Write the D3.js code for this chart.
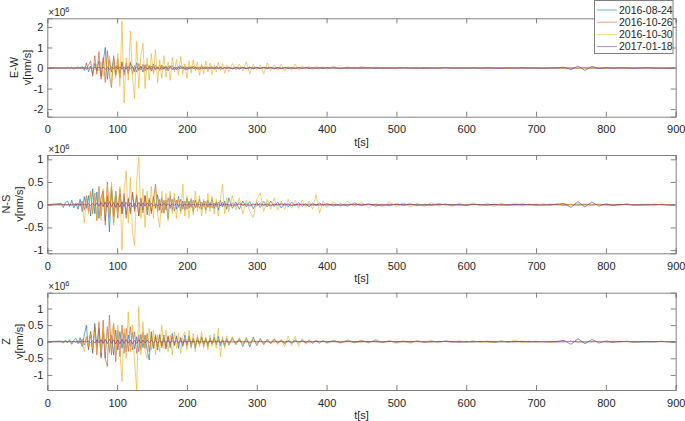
<!DOCTYPE html>
<html>
<head>
<meta charset="utf-8">
<script src="https://cdn.jsdelivr.net/npm/d3@7"></script>
<style>
  body { margin: 0; background: #fff; }
  text { font-family: "Liberation Sans", Arial, sans-serif; fill: #262626; }
</style>
</head>
<body>
<div id="chart"></div>
<script>
// sample times [s]: 3 s samples to 257 s, 5 s samples to 400 s, 10 s samples to 900 s
var times = [0].concat(d3.range(20, 258, 3), d3.range(260, 401, 5), d3.range(410, 901, 10));

var dates = ["2016-08-24", "2016-10-26", "2016-10-30", "2017-01-18"];
var components = ["E-W", "N-S", "Z"];
var xTicks = [0, 100, 200, 300, 400, 500, 600, 700, 800, 900];
var ewTicks = [-2, -1, 0, 1, 2];
var nsTicks = [-1, -0.5, 0, 0.5, 1];
var zTicks = [-1, -0.5, 0, 0.5, 1];

// velocities in 10^6 nm/s, one value per sample time
var ewBlue = [0,
  0, 0.01, -0.02, 0.03, -0.01, 0.04, -0.05, 0.02, 0.06, -0.04,
  0.08, -0.12, 0.25, -0.18, 0.1, -0.3, 0.22, -0.15, 0.35, -0.4,
  0.3, 1.0, -0.55, 0.4, -0.2, 0.45, -0.35, 0.15, -0.25, 0.3,
  -0.2, 0.12, -0.28, 0.22, 0.05, -0.18, 0.25, -0.12, 0.1, -0.2,
  0.16, -0.08, 0.12, -0.15, 0.2, -0.1, 0.04, -0.12, 0.15, -0.06,
  0.1, -0.14, 0.08, 0.12, -0.1, 0.05, -0.09, 0.11, -0.04, 0.08,
  -0.1, 0.06, -0.03, 0.09, -0.07, 0.04, -0.08, 0.1, -0.05, 0.06,
  -0.07, 0.03, 0.06, -0.05, 0.08, -0.04, 0.02, -0.06, 0.05, -0.03,
  0.05, -0.04, 0.03, -0.06, 0.04, -0.02, 0.05, -0.04, 0.03, -0.03,
  0.04, -0.02, 0.03, -0.04, 0.02, -0.03, 0.03, -0.01, 0.02, -0.03,
  0.02, -0.02, 0.03, -0.01, 0.02, -0.02, 0.01, -0.02, 0.01,
  0.01, -0.01, 0.02, 0, -0.01, 0.01, -0.02, 0.01, 0, -0.01,
  0.01, 0, -0.01, 0.01, -0.01, 0, 0.01, -0.01, 0, 0.01,
  0, -0.01, 0.01, 0, -0.01, 0, 0.01, 0, -0.01, 0,
  0.01, 0, -0.01, 0, 0.01, -0.01, 0, 0.01, 0, -0.01,
  0, 0.01, 0, -0.01, 0, 0.01, 0, -0.01, 0, 0];
var ewOrange = [0,
  0, 0, 0, 0, 0.01, -0.01, 0.01, 0, -0.02, 0.02,
  -0.03, 0.05, -0.08, 0.15, 0.35, -0.4, 0.6, -0.3, 0.8, -0.55,
  0.5, -0.7, 0.85, -0.4, -0.95, 0.6, -0.3, 0.45, -0.5, 0.3,
  -0.35, 0.25, -0.15, 0.3, -0.28, 0.12, -0.2, 0.22, -0.1, 0.18,
  -0.15, 0.2, -0.08, 0.1, -0.16, 0.12, -0.05, 0.14, -0.1, 0.08,
  -0.12, 0.06, 0.1, -0.09, 0.05, -0.1, 0.08, -0.04, 0.07, -0.08,
  0.06, -0.05, 0.08, -0.03, 0.05, -0.07, 0.04, -0.05, 0.06, -0.03,
  0.05, -0.04, 0.02, -0.05, 0.04, -0.03, 0.05, -0.02, 0.03, -0.04,
  0.03, -0.03, 0.04, -0.02, 0.03, -0.04, 0.02, -0.02, 0.03, -0.02,
  0.02, -0.03, 0.02, -0.01, 0.03, -0.02, 0.01, -0.02, 0.02, -0.01,
  0.02, -0.01, 0.01, -0.02, 0.01, -0.01, 0.02, -0.01, 0.01,
  0.01, 0, -0.01, 0.01, -0.01, 0, 0.01, 0, -0.01, 0.01,
  0, -0.01, 0, 0.01, 0, -0.01, 0.01, 0, 0, -0.01,
  0.01, 0, -0.01, 0, 0.01, 0, -0.01, 0, 0.01, 0,
  -0.01, 0, 0.01, 0, -0.01, 0, 0.01, -0.01, 0, 0.01,
  0, -0.01, 0, 0.01, 0, 0, -0.01, 0, 0.01, 0];
var ewYellow = [0,
  0, 0, 0, 0, 0, 0, 0, 0, 0, 0,
  0, 0.01, -0.01, 0.02, -0.03, 0.05, -0.1, 0.2, -0.15, 0.3,
  -0.4, 0.5, -0.25, 0.6, -0.7, 0.4, -0.5, 0.7, -0.9, 2.3,
  -1.7, 0.5, -0.6, 1.8, -0.4, -1.5, 1.3, -1.0, 0.6, 1.2,
  -1.0, 0.5, -0.6, 0.7, -0.3, 0.9, -0.7, 0.4, -0.5, 0.6,
  -0.45, 0.3, -0.6, 0.5, -0.2, 0.4, -0.35, 0.55, -0.3, 0.2,
  -0.5, 0.35, -0.25, 0.4, -0.15, 0.3, -0.35, 0.2, -0.28, 0.35,
  -0.2, 0.25, -0.3, 0.15, -0.2, 0.28, -0.12, 0.22, -0.25, 0.15,
  -0.18, 0.22, -0.1, 0.2, -0.15, 0.3, -0.28, 0.18, -0.1, 0.15,
  -0.3, 0.25, -0.12, 0.15, -0.1, 0.18, -0.14, 0.1, -0.12, 0.2,
  -0.1, 0.12, -0.08, 0.1, -0.06, 0.09, -0.05, 0.07, -0.06,
  0.08, -0.05, 0.06, -0.04, 0.07, -0.03, 0.05, -0.04, 0.03, -0.04,
  0.03, -0.02, 0.04, -0.03, 0.02, -0.03, 0.03, -0.02, 0.02, -0.03,
  0.04, -0.02, 0.03, -0.02, 0.02, -0.03, 0.02, -0.01, 0.02, -0.01,
  0.01, -0.02, 0.01, -0.01, 0.02, -0.01, 0.01, -0.01, 0.01, -0.01,
  0.01, 0, -0.01, 0.01, 0, -0.01, 0.01, 0, -0.01, 0];
var ewPurple = [0,
  0, 0, 0, 0, 0, 0, 0, 0, 0, 0,
  0, 0, 0.01, -0.01, 0.02, -0.02, 0.03, -0.02, 0.04, -0.03,
  0.05, -0.06, 0.04, -0.08, 0.06, -0.05, 0.07, -0.04, 0.05, -0.06,
  0.04, -0.05, 0.06, -0.03, 0.04, -0.05, 0.03, -0.04, 0.05, -0.02,
  0.03, -0.04, 0.02, -0.03, 0.04, -0.02, 0.03, -0.03, 0.02, -0.02,
  0.03, -0.02, 0.02, -0.03, 0.01, -0.02, 0.02, -0.01, 0.02, -0.02,
  0.01, -0.02, 0.01, -0.01, 0.02, -0.01, 0.01, -0.01, 0.01, -0.01,
  0.01, 0, -0.01, 0.01, -0.01, 0, 0.01, -0.01, 0, 0.01,
  0, -0.01, 0, 0.01, 0, -0.01, 0, 0.01, 0, 0,
  0, 0.01, 0, -0.01, 0, 0, 0.01, 0, -0.01, 0,
  0, 0, 0.01, 0, -0.01, 0, 0, 0.01, 0,
  0, -0.01, 0, 0, 0.01, 0, 0, -0.01, 0, 0,
  0.01, 0, 0, -0.01, 0, 0, 0.01, 0, 0, -0.01,
  0, 0, 0.01, 0, -0.01, 0, 0, 0.01, 0, 0,
  -0.01, 0, 0.01, 0.04, -0.08, 0.1, -0.12, 0.08, -0.03, 0.02,
  -0.01, 0.01, 0, -0.01, 0, 0.01, 0, 0, -0.01, 0];

var nsBlue = [0,
  0.03, -0.06, 0.05, 0.08, -0.04, 0.1, -0.07, 0.04, -0.1, 0.12,
  -0.15, 0.18, -0.08, 0.2, -0.25, 0.35, -0.2, 0.28, -0.3, 0.15,
  0.3, -0.35, 0.2, -0.6, 0.4, -0.25, 0.3, -0.15, 0.25, -0.2,
  0.18, -0.22, 0.12, -0.15, 0.25, -0.1, 0.2, -0.25, 0.15, -0.12,
  0.2, -0.22, 0.1, -0.15, 0.18, -0.08, 0.22, -0.12, 0.15, -0.18,
  0.1, -0.3, 0.2, -0.12, 0.15, -0.1, 0.18, -0.14, 0.08, -0.12,
  0.14, -0.08, 0.12, -0.15, 0.1, -0.06, 0.12, -0.1, 0.08, -0.12,
  0.1, -0.06, 0.14, -0.09, 0.07, -0.12, 0.1, -0.05, 0.08, -0.1,
  0.15, -0.08, 0.06, -0.1, 0.08, -0.05, 0.07, -0.09, 0.05, -0.06,
  0.07, -0.05, 0.08, -0.04, 0.06, -0.07, 0.04, -0.05, 0.06, -0.03,
  0.05, -0.04, 0.03, -0.05, 0.04, -0.03, 0.04, -0.02, 0.03,
  -0.03, 0.02, -0.03, 0.04, -0.02, 0.02, -0.03, 0.01, -0.02, 0.02,
  -0.01, 0.02, -0.02, 0.01, -0.01, 0.02, 0, -0.01, 0.01, -0.01,
  0.01, 0, -0.01, 0.01, 0, -0.01, 0, 0.01, 0, -0.01,
  0, 0.01, 0, -0.01, 0, 0.01, 0, -0.01, 0.01, 0,
  -0.01, 0, 0.01, 0, -0.01, 0, 0.01, 0, 0, 0];
var nsOrange = [0,
  0, 0, 0, 0, 0.01, -0.01, 0.02, -0.02, 0.04, -0.03,
  0.08, -0.12, 0.2, -0.15, 0.3, -0.2, 0.25, -0.35, 0.4, -0.25,
  0.3, -0.45, 0.5, -0.3, 0.35, -0.4, 0.2, -0.3, 0.35, -0.2,
  0.25, -0.3, 0.15, -0.2, 0.28, -0.15, 0.22, -0.25, 0.12, -0.18,
  0.2, -0.12, 0.15, -0.2, 0.1, 0.45, -0.15, 0.12, -0.18, 0.1,
  -0.12, 0.15, -0.08, 0.12, -0.14, 0.1, -0.06, 0.12, -0.1, 0.08,
  -0.1, 0.08, -0.06, 0.1, -0.07, 0.05, -0.08, 0.06, -0.04, 0.07,
  -0.06, 0.05, -0.07, 0.04, -0.05, 0.06, -0.03, 0.05, -0.04, 0.03,
  -0.05, 0.04, -0.03, 0.05, -0.02, 0.04, -0.04, 0.03, -0.03, 0.04,
  -0.02, 0.03, -0.03, 0.02, -0.02, 0.03, -0.01, 0.02, -0.02, 0.01,
  -0.02, 0.02, -0.01, 0.02, -0.01, 0.01, -0.02, 0.01, -0.01,
  0.01, -0.01, 0.01, 0, -0.01, 0.01, 0, -0.01, 0.01, 0,
  -0.01, 0, 0.01, 0, -0.01, 0.01, 0, 0, -0.01, 0,
  0.01, 0, -0.01, 0, 0.01, 0, 0, -0.01, 0, 0.01,
  0, -0.01, 0, 0.01, 0, -0.01, 0, 0.01, 0, 0,
  -0.01, 0, 0.01, 0, 0, -0.01, 0, 0.01, 0, 0];
var nsYellow = [0,
  0, 0, 0, 0, 0, 0, 0, 0, 0, 0,
  0.05, -0.4, 0.15, -0.2, 0.3, -0.15, 0.25, -0.3, 0.2, -0.35,
  0.35, -0.2, 0.45, -0.3, 0.5, -0.45, 0.3, -0.2, 0.4, -1.0,
  0.3, 0.75, -0.4, 0.6, -0.6, -0.9, 0.5, 1.05, -0.3, 0.35,
  -0.5, 0.3, -0.25, 0.4, -0.3, 0.35, -0.2, -0.5, 0.3, -0.2,
  0.25, -0.35, 0.3, -0.2, 0.25, -0.3, 0.15, -0.2, 0.45, -0.25,
  0.2, -0.3, 0.15, -0.22, 0.3, -0.15, 0.2, -0.25, 0.12, -0.2,
  0.25, -0.15, 0.18, -0.2, 0.12, -0.25, 0.15, 0.45, -0.2, 0.15,
  -0.15, 0.2, -0.12, 0.15, -0.2, 0.1, -0.15, -0.28, 0.12, 0.26,
  -0.15, 0.12, -0.1, 0.15, -0.12, 0.08, -0.1, 0.12, -0.08, 0.1,
  -0.08, 0.1, -0.06, 0.08, -0.1, 0.22, -0.18, 0.08, -0.06,
  0.06, -0.05, 0.08, -0.04, 0.06, -0.07, 0.03, -0.05, 0.06, -0.04,
  0.04, -0.05, 0.03, -0.04, 0.05, -0.03, 0.02, -0.04, 0.03, -0.02,
  0.04, -0.03, 0.02, -0.04, 0.03, -0.02, 0.04, -0.03, 0.02, -0.02,
  0.02, -0.01, 0.02, -0.02, 0.01, -0.01, 0.02, -0.01, 0.01, -0.02,
  0.01, -0.01, 0.02, -0.01, 0.01, 0, -0.01, 0.01, 0, 0];
var nsPurple = [0,
  0, 0, 0, 0, 0, 0, 0, 0, 0, 0,
  0, 0.01, -0.01, 0.02, -0.02, 0.03, -0.02, 0.04, -0.03, 0.05,
  -0.04, 0.06, -0.05, 0.07, -0.04, 0.05, -0.06, 0.04, -0.05, 0.06,
  -0.04, 0.05, -0.03, 0.04, -0.05, 0.03, -0.04, 0.05, -0.03, 0.04,
  -0.03, 0.04, -0.02, 0.03, -0.03, 0.02, -0.03, 0.02, -0.02, 0.03,
  -0.02, 0.02, -0.03, 0.02, -0.01, 0.02, -0.02, 0.01, -0.02, 0.01,
  -0.01, 0.02, -0.01, 0.01, -0.01, 0.01, 0, -0.01, 0.01, 0,
  -0.01, 0.01, 0, -0.01, 0.01, 0, -0.01, 0, 0.01, 0,
  0, -0.01, 0, 0.01, 0, 0, -0.01, 0, 0.01, 0,
  0, 0, -0.01, 0, 0.01, 0, 0, 0, -0.01, 0,
  0.01, 0, 0, -0.01, 0, 0, 0.01, 0, 0,
  0, -0.01, 0, 0, 0.01, 0, 0, -0.01, 0, 0,
  0.01, 0, 0, -0.01, 0, 0, 0.01, 0, 0, -0.01,
  0, 0, 0.01, 0, -0.01, 0, 0, 0.01, 0, 0,
  -0.01, 0, 0.01, 0.03, -0.06, 0.07, -0.05, 0.06, -0.03, 0.02,
  -0.01, 0.01, 0, -0.01, 0, 0.01, 0, 0, -0.01, 0];

var zBlue = [0,
  0.02, -0.04, 0.05, -0.03, 0.06, -0.08, 0.04, 0.1, -0.06, 0.12,
  -0.15, 0.2, 0.5, -0.25, 0.3, -0.35, 0.55, -0.2, 0.4, -0.45,
  0.3, -0.5, 0.45, -0.3, 0.2, -0.4, 0.35, -0.25, 0.3, -0.2,
  0.25, -0.3, 0.2, -0.15, 0.28, -0.22, 0.15, -0.3, 0.22, -0.18,
  0.2, -0.25, -0.55, 0.3, -0.2, 0.15, -0.25, 0.22, -0.12, 0.2,
  -0.22, 0.15, -0.18, 0.25, -0.1, 0.18, -0.2, 0.12, -0.15, 0.2,
  -0.12, 0.18, -0.16, 0.1, -0.2, 0.14, -0.08, 0.15, -0.12, 0.1,
  -0.15, 0.12, -0.08, 0.14, -0.1, 0.16, -0.12, 0.08, -0.14, 0.1,
  -0.1, 0.12, -0.08, 0.1, -0.14, 0.12, -0.16, 0.14, -0.12, 0.1,
  -0.08, 0.07, -0.06, 0.08, -0.05, 0.06, -0.07, 0.04, -0.05, 0.06,
  -0.04, 0.05, -0.03, 0.04, -0.05, 0.03, -0.04, 0.03, -0.02,
  0.03, -0.02, 0.03, -0.03, 0.02, -0.02, 0.03, -0.01, 0.02, -0.02,
  0.01, -0.02, 0.02, -0.01, 0.01, -0.01, 0.02, 0, -0.01, 0.01,
  -0.01, 0.01, 0, -0.02, 0.02, -0.01, 0, 0.01, -0.01, 0,
  0.01, 0, -0.01, 0, 0.01, 0, -0.01, 0, 0.01, 0,
  -0.01, 0, 0.01, 0, -0.01, 0, 0, 0.01, 0, 0];
var zOrange = [0,
  0, 0, 0, 0, 0.01, -0.01, 0.02, -0.02, 0.03, -0.05,
  0.08, -0.1, 0.15, -0.2, 0.3, -0.25, 0.45, -0.4, 0.6, -0.5,
  0.65, -0.5, -0.75, 0.8, -0.4, 0.55, -0.6, 0.35, -0.45, 0.5,
  -0.35, 0.4, -0.3, 0.45, -0.25, 0.3, -0.35, 0.2, -0.25, 0.3,
  -0.2, 0.25, -0.3, 0.18, -0.2, 0.22, -0.15, 0.2, -0.18, 0.12,
  -0.15, 0.18, -0.1, 0.15, -0.12, 0.14, -0.08, 0.12, -0.1, 0.08,
  -0.1, 0.12, -0.07, 0.09, -0.1, 0.06, -0.08, 0.1, -0.06, 0.07,
  -0.08, 0.05, -0.06, 0.08, -0.04, 0.06, -0.05, 0.04, -0.06, 0.05,
  -0.04, 0.05, -0.03, 0.04, -0.05, 0.03, -0.04, 0.05, -0.03, 0.03,
  -0.03, 0.02, -0.03, 0.03, -0.02, 0.02, -0.03, 0.01, -0.02, 0.02,
  -0.01, 0.02, -0.02, 0.01, -0.01, 0.02, -0.01, 0.01, -0.01,
  0.01, -0.01, 0.01, 0, -0.01, 0.01, 0, -0.01, 0.01, 0,
  -0.01, 0, 0.01, 0, -0.01, 0.01, 0, 0, -0.01, 0,
  0.01, 0, -0.01, 0, 0.01, 0, 0, -0.01, 0, 0.01,
  0, -0.01, 0, 0.01, 0, -0.01, 0, 0.01, 0, 0,
  -0.01, 0, 0.01, 0, 0, -0.01, 0, 0.01, 0, 0];
var zYellow = [0,
  0, 0, 0, 0, 0, 0, 0, 0, 0, 0,
  0.04, -0.3, 0.12, -0.15, 0.25, -0.2, 0.3, -0.25, 0.15, -0.35,
  0.4, -0.3, 0.45, -0.35, 0.25, 0.55, -0.4, 0.5, -0.3, -1.2,
  0.4, -0.5, 0.9, -0.3, 0.5, -0.6, -1.45, 1.05, -0.4, 0.6,
  -0.3, -0.5, 0.4, -0.25, 0.35, -0.4, 0.2, -0.3, 0.5, -0.2,
  0.35, -0.3, 0.2, -0.4, 0.3, -0.2, 0.25, -0.35, 0.15, 0.3,
  -0.25, 0.35, -0.2, 0.25, -0.3, 0.2, -0.15, 0.3, -0.2, 0.15,
  -0.25, 0.2, -0.15, 0.25, -0.2, 0.4, -0.45, 0.15, -0.2, 0.18,
  -0.12, 0.15, -0.1, 0.12, -0.15, 0.1, -0.08, 0.12, -0.1, 0.08,
  -0.1, 0.08, -0.06, 0.1, -0.08, 0.06, -0.15, 0.17, -0.12, 0.16,
  -0.14, 0.1, -0.08, 0.06, -0.05, 0.07, -0.04, 0.05, -0.06,
  0.04, -0.05, 0.06, -0.03, 0.05, -0.04, 0.07, -0.03, 0.04, -0.05,
  0.03, -0.04, 0.03, -0.02, 0.04, -0.03, 0.02, -0.03, 0.03, -0.02,
  0.03, -0.02, 0.02, -0.03, 0.02, -0.02, 0.05, -0.03, 0.02, -0.02,
  0.01, -0.02, 0.01, -0.01, 0.02, -0.01, 0.01, -0.01, 0.01, -0.01,
  0.02, -0.01, 0.01, -0.02, 0.01, 0, -0.01, 0.01, 0, 0];
var zPurple = [0,
  0, 0, 0, 0, 0, 0, 0, 0, 0, 0,
  0, 0.01, -0.01, 0.02, -0.03, 0.03, -0.04, 0.05, -0.03, 0.06,
  -0.05, 0.07, -0.06, 0.08, -0.05, 0.06, -0.07, 0.05, -0.06, 0.07,
  -0.05, 0.06, -0.04, 0.05, -0.06, 0.04, -0.05, 0.06, -0.04, 0.05,
  -0.04, 0.05, -0.03, 0.04, -0.03, 0.03, -0.04, 0.02, -0.03, 0.03,
  -0.02, 0.03, -0.03, 0.02, -0.02, 0.02, -0.02, 0.01, -0.02, 0.01,
  -0.01, 0.02, -0.01, 0.01, -0.01, 0.01, 0, -0.01, 0.01, 0,
  -0.01, 0.01, 0, -0.01, 0.01, 0, -0.01, 0, 0.01, 0,
  0, -0.01, 0, 0.01, 0, 0, -0.01, 0, 0.01, 0,
  0, 0, -0.01, 0, 0.01, 0, 0, 0, -0.01, 0,
  0.01, 0, 0, -0.01, 0, 0, 0.01, 0, 0,
  0, -0.01, 0, 0, 0.01, 0, 0, -0.01, 0, 0,
  0.01, 0, 0, -0.01, 0, 0, 0.01, 0, 0, -0.01,
  0, 0, 0.01, 0, -0.01, 0, 0, 0.01, 0, 0,
  -0.01, 0, 0.01, 0.04, -0.08, 0.09, -0.06, 0.07, -0.04, 0.02,
  -0.01, 0.01, 0, -0.01, 0, 0.01, 0, 0, -0.01, 0];

function init() {
    var w = 685, h = 421;
    var left = 47.3, right = 675.7;
    var colors = ["#0072BD", "#D95319", "#EDB120", "#7E2F8E"];

    // panel boxes, y limits and y-label positions, one entry per component
    var panels = [
        { name: components[0], series: [ewBlue, ewOrange, ewYellow, ewPurple], ticks: ewTicks,
          top: 18.3, bottom: 116.7, ylim: [-2.37, 2.42], labelX: [18, 31] },
        { name: components[1], series: [nsBlue, nsOrange, nsYellow, nsPurple], ticks: nsTicks,
          top: 155, bottom: 253.3, ylim: [-1.07, 1.095], labelX: [9.5, 22.5] },
        { name: components[2], series: [zBlue, zOrange, zYellow, zPurple], ticks: zTicks,
          top: 292.7, bottom: 390, ylim: [-1.455, 1.476], labelX: [9.5, 22.5] }
    ];

    var svg = d3.select("#chart").append("svg")
        .attr("width", w)
        .attr("height", h);

    var xScale = d3.scaleLinear().domain([0, 900]).range([left, right]);

    panels.forEach(function(p, k) {
        var yScale = d3.scaleLinear().domain(p.ylim).range([p.bottom, p.top]);
        var g = svg.append("g");

        svg.append("clipPath").attr("id", "clip" + k)
            .append("rect")
            .attr("x", left).attr("y", p.top)
            .attr("width", right - left).attr("height", p.bottom - p.top);

        // traces
        var line = d3.line()
            .x(function(d, i) { return xScale(times[i]); })
            .y(function(d) { return yScale(d); });

        g.append("g").attr("clip-path", "url(#clip" + k + ")")
            .selectAll("path")
            .data(p.series)
            .enter()
            .append("path")
            .attr("d", line)
            .attr("fill", "none")
            .attr("stroke", function(d, i) { return colors[i]; })
            .attr("stroke-opacity", 0.7)
            .attr("stroke-width", 0.9)
            .attr("stroke-linejoin", "round");

        // axes: ticks inside, on all four sides
        var axisColor = "#808080";
        var xb = g.append("g").attr("transform", "translate(0," + p.bottom + ")")
            .call(d3.axisBottom(xScale).tickValues(xTicks).tickSize(-5).tickPadding(9));
        var xt = g.append("g").attr("transform", "translate(0," + p.top + ")")
            .call(d3.axisTop(xScale).tickValues(xTicks).tickSize(-5).tickFormat(""));
        var yl = g.append("g").attr("transform", "translate(" + left + ",0)")
            .call(d3.axisLeft(yScale).tickValues(p.ticks).tickSize(-5).tickPadding(4));
        var yr = g.append("g").attr("transform", "translate(" + right + ",0)")
            .call(d3.axisRight(yScale).tickValues(p.ticks).tickSize(-5).tickFormat(""));

        [xb, xt, yl, yr].forEach(function(a) {
            a.select(".domain").attr("stroke", axisColor);
            a.selectAll(".tick line").attr("stroke", axisColor);
            a.selectAll("text").attr("font-size", 11).attr("fill", "#262626")
                .attr("font-family", "Liberation Sans, Arial, sans-serif");
        });
        yl.selectAll("text").text(function(d) { return d < 0 ? "-" + Math.abs(d) : d; });

        // exponent label
        var ex = g.append("text").attr("x", left + 1).attr("y", p.top - 2.5)
            .attr("font-size", 10).attr("fill", "#262626");
        ex.append("tspan").text("\u00d710");
        ex.append("tspan").attr("dy", -4).attr("font-size", 7.5).text("6");

        // y label, two lines
        var cy = (p.top + p.bottom) / 2;
        g.append("text")
            .attr("transform", "translate(" + p.labelX[0] + "," + cy + ") rotate(-90)")
            .attr("text-anchor", "middle").attr("font-size", 11)
            .text(p.name);
        g.append("text")
            .attr("transform", "translate(" + p.labelX[1] + "," + cy + ") rotate(-90)")
            .attr("text-anchor", "middle").attr("font-size", 11)
            .text("v[nm/s]");

        // x label
        g.append("text")
            .attr("x", (left + right) / 2).attr("y", p.bottom + 29)
            .attr("text-anchor", "middle").attr("font-size", 11)
            .text("t[s]");
    });

    // legend
    var legend = svg.append("g").attr("transform", "translate(594.5,0.5)");
    legend.append("rect")
        .attr("width", 78.5).attr("height", 53)
        .attr("fill", "#fff").attr("stroke", "#808080").attr("stroke-width", 1);

    var entries = legend.selectAll("g.legend")
        .data(dates)
        .enter()
        .append("g")
        .attr("class", "legend")
        .attr("transform", function(d, i) { return "translate(0," + (9.5 + i * 12.2) + ")"; });

    entries.append("line")
        .attr("x1", 2.5).attr("x2", 22.5)
        .attr("stroke", function(d, i) { return colors[i]; })
        .attr("stroke-opacity", 0.55)
        .attr("stroke-width", 1);

    entries.append("text")
        .attr("x", 24.5).attr("y", 3.8)
        .attr("font-size", 10.5)
        .text(function(d) { return d; });
}

window.onload = init;
</script>
</body>
</html>
